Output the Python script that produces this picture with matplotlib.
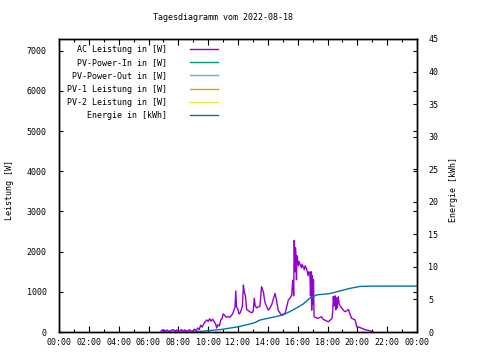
import matplotlib
matplotlib.use("Agg")
import matplotlib.pyplot as plt
from matplotlib.ticker import FixedLocator, MultipleLocator

# ---- data ----
ac_hours = [6.85, 7.0, 7.1, 7.25, 7.4, 7.5, 7.65, 7.8, 7.9, 8.05, 8.2, 8.3, 8.45, 8.6, 8.75, 8.9, 9.0, 9.1, 9.2,
            9.3, 9.4, 9.5, 9.6, 9.7, 9.8, 9.9, 10.0, 10.1, 10.2, 10.3, 10.4, 10.5, 10.57, 10.65, 10.75, 10.85, 10.95,
            11.0, 11.1, 11.2, 11.3, 11.46, 11.6, 11.66, 11.8, 11.85, 11.9, 12.0, 12.06, 12.15, 12.29, 12.33, 12.36,
            12.42, 12.5, 12.58, 12.7, 12.8, 12.95, 13.02, 13.09, 13.15, 13.25, 13.35, 13.47, 13.58, 13.65, 13.7,
            13.8, 13.9, 14.03, 14.15, 14.25, 14.35, 14.48, 14.55, 14.6, 14.7, 14.8, 14.92, 15.05, 15.15, 15.25,
            15.37, 15.5, 15.6, 15.65, 15.7, 15.73, 15.77, 15.82, 15.85, 15.88, 15.92, 15.95, 16.0, 16.05, 16.1,
            16.15, 16.25, 16.3, 16.37, 16.45, 16.5, 16.6, 16.7, 16.75, 16.82, 16.86, 16.9, 16.94, 16.98, 17.02,
            17.06, 17.1, 17.2, 17.3, 17.38, 17.5, 17.6, 17.7, 17.8, 17.9, 18.05, 18.2, 18.3, 18.35, 18.39, 18.45,
            18.5, 18.55, 18.6, 18.65, 18.72, 18.78, 18.85, 18.95, 19.05, 19.17, 19.3, 19.4, 19.5, 19.62, 19.75,
            19.85, 19.92, 19.95, 20.1, 20.2, 20.3, 20.4, 20.5, 20.6, 20.75, 20.9, 21.05]
ac_watts = [30, 60, 20, 50, 10, 40, 60, 20, 50, 10, 60, 30, 50, 20, 60, 10, 40, 70, 30,
            100, 60, 170, 120, 200, 255, 300, 260, 330, 270, 320, 260, 200, 100, 180, 150, 300, 350,
            450, 420, 370, 380, 370, 430, 470, 620, 1020, 620, 560, 450, 480, 630, 900, 1170,
            1000, 900, 560, 530, 500, 480, 520, 840, 650, 600, 620, 640, 1125, 1040, 1000,
            750, 650, 545, 600, 670, 800, 960, 850, 750, 540, 480, 420, 450, 460, 600,
            790, 850, 920, 1200, 1290, 900, 2280, 1500, 2100, 1960, 1300, 1900, 1800, 1650, 1750,
            1700, 1600, 1680, 1620, 1550, 1650, 1570, 1400, 1500, 1460, 900, 1500, 545, 1400, 700,
            1300, 380, 360, 350, 340, 360, 380, 320, 300, 280, 255, 300, 340, 500, 880, 650,
            900, 550, 850, 600, 880, 700, 650, 600, 550, 505, 530, 560, 450, 340, 320,
            300, 200, 130, 120, 110, 90, 80, 60, 50, 40, 20, 0]

en_hours = [6.85, 8.3, 9.0, 9.8, 10.9, 12.0, 13.1, 13.47, 13.8, 15.0, 15.7, 16.37, 16.82, 17.27,
            18.16, 18.83, 19.5, 20.17, 21.05, 24.0]
en_kwh = [0.0, 0.02, 0.05, 0.15, 0.4, 0.8, 1.4, 1.84, 2.0, 2.6, 3.4, 4.3, 5.2, 5.7,
          5.9, 6.3, 6.7, 7.0, 7.05, 7.05]

x_tick_hours = list(range(0, 25, 2))
x_tick_labels = ["00:00", "02:00", "04:00", "06:00", "08:00", "10:00", "12:00",
                 "14:00", "16:00", "18:00", "20:00", "22:00", "00:00"]
y1_ticks = list(range(0, 7001, 1000))
y2_ticks = list(range(0, 46, 5))

series_labels = ["AC Leistung in [W]", "PV-Power-In in [W]", "PV-Power-Out in [W]",
                 "PV-1 Leistung in [W]", "PV-2 Leistung in [W]", "Energie in [kWh]"]
series_colors = ["#9400d3", "#009e73", "#56b4e9", "#e69f00", "#f0e442", "#0072b2"]

# ---- figure ----
FONT = "DejaVu Sans Mono"
FS = 6
plt.rcParams["font.family"] = FONT
plt.rcParams["font.size"] = FS

fig = plt.figure(figsize=(4.8, 3.6), dpi=100)
W, H = 480, 360
L, R, T, B = 59, 417, 39, 332
ax = fig.add_axes([L / W, 1 - B / H, (R - L) / W, (B - T) / H])
ax2 = ax.twinx()

h_ac, = ax.plot(ac_hours, ac_watts, color=series_colors[0], lw=1.0)
empty_handles = []
for c in series_colors[1:5]:
    hh, = ax.plot([], [], color=c, lw=1.0)
    empty_handles.append(hh)
h_en, = ax2.plot(en_hours, en_kwh, color=series_colors[5], lw=1.0)

ax.set_xlim(0, 24)
ax.set_ylim(0, 7290)
ax2.set_ylim(0, 45)

ax.xaxis.set_major_locator(FixedLocator(x_tick_hours))
ax.set_xticklabels(x_tick_labels)
ax.xaxis.set_minor_locator(MultipleLocator(1))
ax.yaxis.set_major_locator(FixedLocator(y1_ticks))
ax2.yaxis.set_major_locator(FixedLocator(y2_ticks))

ax.tick_params(axis="x", which="major", direction="in", length=4, width=0.8, top=True, pad=4, labelsize=FS)
ax.tick_params(axis="x", which="minor", direction="in", length=2, width=0.8, top=True)
ax.tick_params(axis="y", which="major", direction="in", length=3, width=0.8, right=True, pad=9, labelsize=FS)
ax2.tick_params(axis="y", direction="in", length=3, width=0.8, pad=8, labelsize=FS)

for a in (ax, ax2):
    for s in a.spines.values():
        s.set_linewidth(1.0)
        s.set_color("black")

fig.text(223 / W, 1 - 18 / H, "Tagesdiagramm vom 2022-08-18", ha="center", va="center", fontsize=FS)
fig.text(10 / W, 1 - 190 / H, "Leistung [W]", rotation=90, ha="center", va="center", fontsize=FS)
fig.text(453 / W, 1 - 190 / H, "Energie [kWh]", rotation=90, ha="center", va="center", fontsize=FS)

handles = [h_ac] + empty_handles + [h_en]
leg = ax2.legend(handles, series_labels, loc="upper right",
                 bbox_to_anchor=((218 - L) / (R - L), 1 - (44.5 - T) / (B - T)),
                 frameon=False, markerfirst=False, borderaxespad=0, borderpad=0,
                 handlelength=3.4, handletextpad=2.7, labelspacing=0.52, fontsize=FS)

fig.savefig("out.png", dpi=100)
